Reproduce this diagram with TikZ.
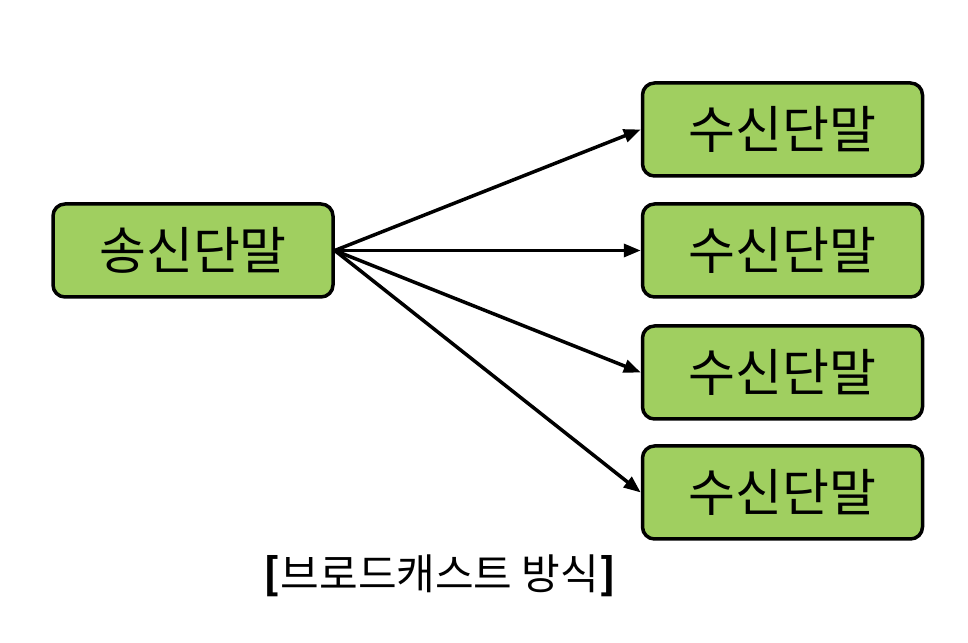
\documentclass[tikz,border=0pt]{standalone}
\usepackage{fontspec}
\setmainfont{Noto Sans CJK KR}
\usetikzlibrary{arrows.meta}
\definecolor{boxgreen}{RGB}{160,207,96}
\begin{document}
\begin{tikzpicture}[x=1pt,y=1pt,
  term/.style={draw=black,line width=3.5pt,fill=boxgreen,rounded corners=12pt,minimum width=280pt,minimum height=93pt,inner sep=0pt,font=\fontsize{51}{60}\selectfont},
  conn/.style={line width=3.5pt,-{Triangle[length=17pt,width=13pt]}}]
\useasboundingbox (0,0) rectangle (968,642);
\node[term] (s) at (193,391.5) {송신단말};
\node[term] (r1) at (782.5,512.5) {수신단말};
\node[term] (r2) at (782.5,391.5) {수신단말};
\node[term] (r3) at (782.5,269.5) {수신단말};
\node[term] (r4) at (782.5,149.5) {수신단말};
\draw[conn] (s.east) -- (r1.west);
\draw[conn] (s.east) -- (r2.west);
\draw[conn] (s.east) -- (r3.west);
\draw[conn] (s.east) -- (r4.west);
\node[font=\fontsize{42}{48}\selectfont] (cap) at (440,66) {\textbf{[}브로드캐스트 방식\textbf{]}};
\end{tikzpicture}
\end{document}
